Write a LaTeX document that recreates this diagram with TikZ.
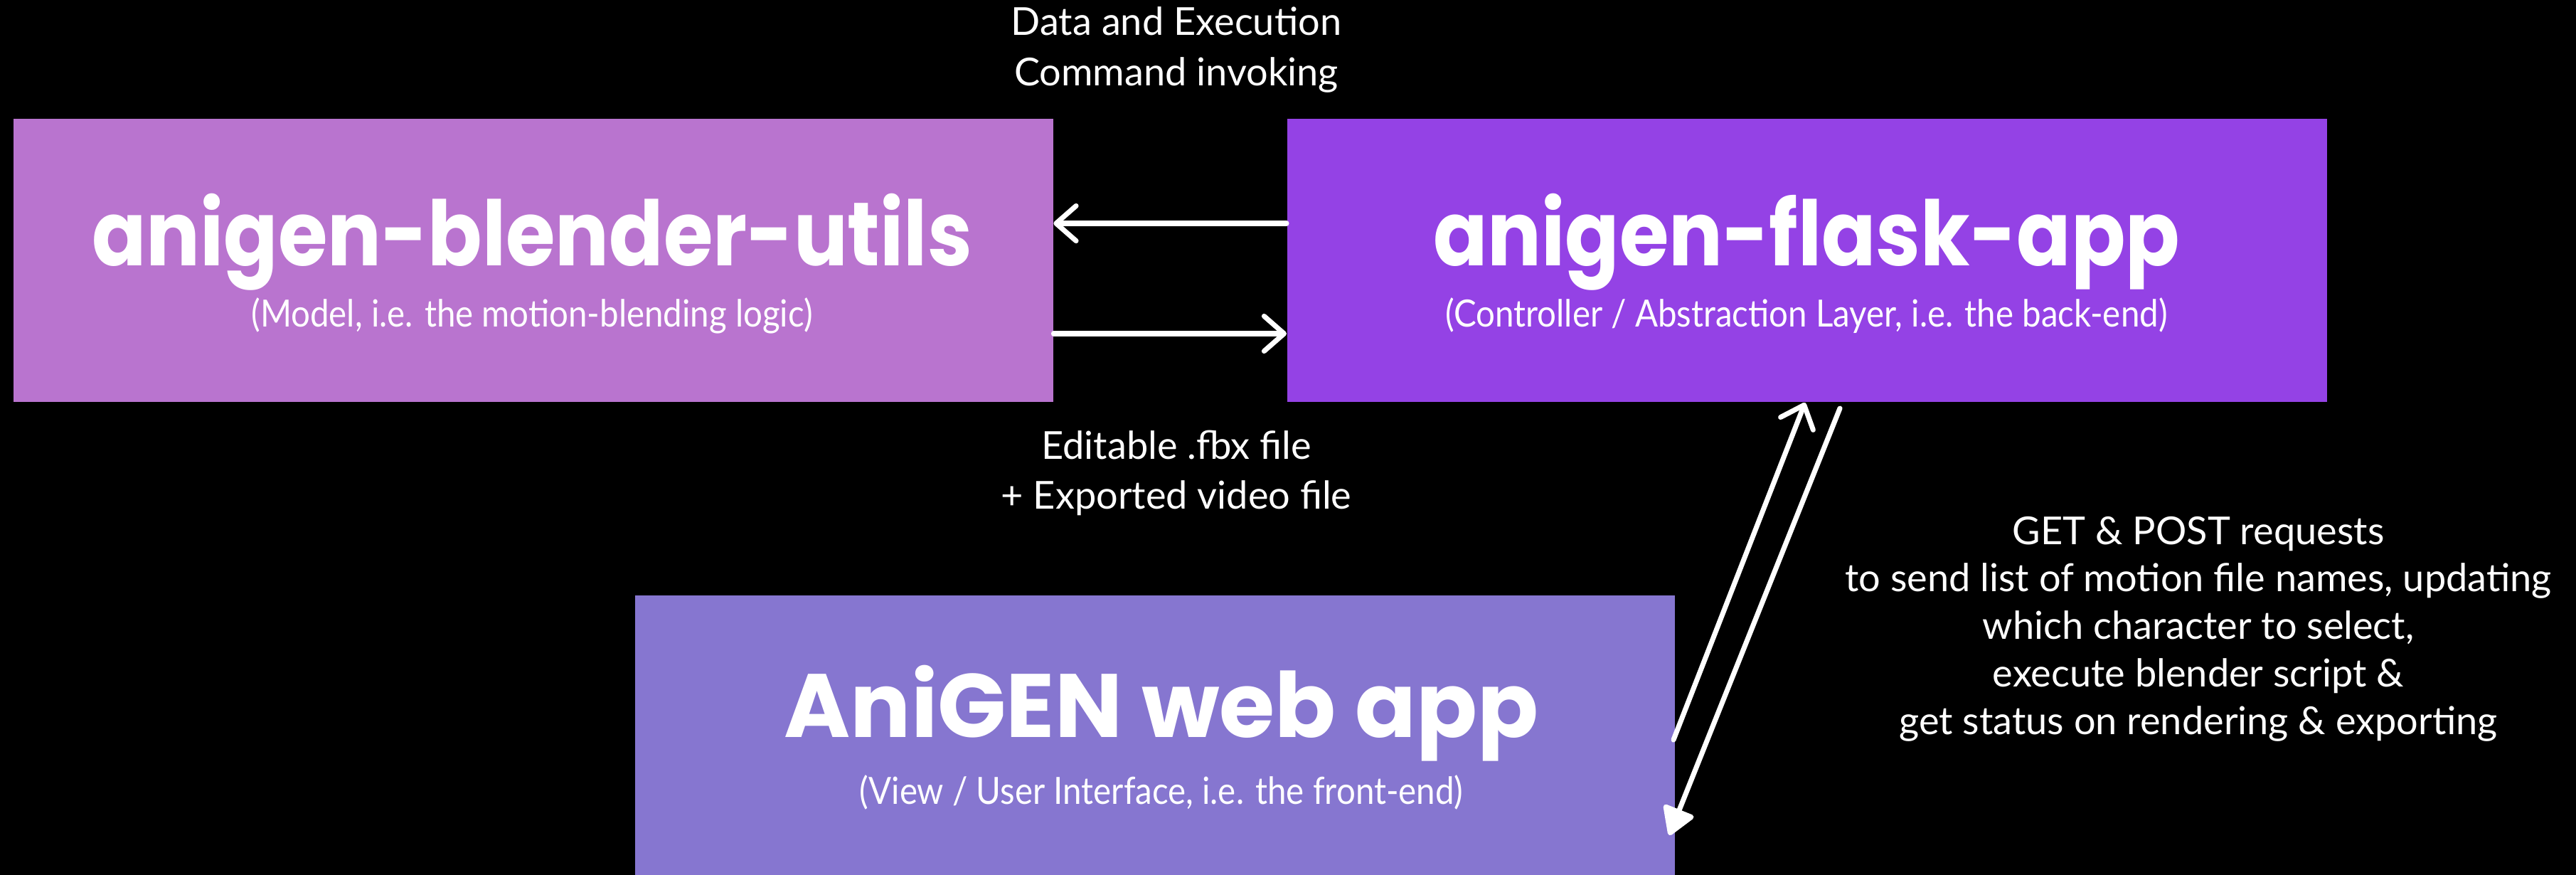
\documentclass[tikz,border=0pt]{standalone}
\usepackage{fontspec}
\setmainfont{Lato}
\newfontfamily\titlefont{Poppins}[FakeStretch=0.89]
\newfontfamily\titlewide{Poppins}
\newfontfamily\subfont{Lato}[FakeStretch=0.9]
\usetikzlibrary{arrows.meta}
\definecolor{boxa}{RGB}{185,116,207}
\definecolor{boxb}{RGB}{148,66,229}
\definecolor{boxc}{RGB}{134,118,208}
\begin{document}
\begin{tikzpicture}[
  boxstyle/.style={draw=none,inner sep=0pt,minimum width=14.62cm},
  titletext/.style={text=white,font=\titlefont\bfseries\fontsize{36}{40}\selectfont,inner sep=0pt},
  titlewidetext/.style={text=white,font=\titlewide\bfseries\fontsize{36}{40}\selectfont,inner sep=0pt},
  subtext/.style={text=white,font=\subfont\fontsize{15}{18}\selectfont,inner sep=0pt},
  labeltext/.style={text=white,font=\fontsize{15.4}{18}\selectfont,align=center,inner sep=0pt},
  flow/.style={draw=white,line width=2pt,line cap=round,-{Straight Barb[length=8pt,width=14pt,line width=2pt,round]}},
  flowtri/.style={draw=white,line width=2pt,line cap=round,-{Triangle[length=12pt,width=14pt,round]}}
]
\fill[black] (0,0) rectangle (36.22,-12.30);
\useasboundingbox (0,0) rectangle (36.22,-12.30);

\node[boxstyle,fill=boxa,anchor=north west,minimum height=3.98cm] (model) at (0.18,-1.66) {};
\node[boxstyle,fill=boxb,anchor=north west,minimum height=3.98cm] (ctrl) at (18.09,-1.66) {};
\node[boxstyle,fill=boxc,anchor=north west,minimum height=3.94cm] (view) at (8.92,-8.36) {};

\node[titletext] (modelt) at (7.48,-3.40) {anigen-blender-utils};
\node[subtext] (models) at (7.48,-4.44) {(Model, i.e. the motion-blending logic)};
\node[titletext] (ctrlt) at (25.40,-3.40) {anigen-flask-app};
\node[subtext] (ctrls) at (25.40,-4.44) {(Controller / Abstraction Layer, i.e. the back-end)};
\node[titlewidetext] (viewt) at (16.33,-10.03) {AniGEN web app};
\node[subtext] (views) at (16.33,-11.14) {(View / User Interface, i.e. the front-end)};

\node[labeltext] (cmd) at (16.54,-0.70) {Data and Execution\\[2pt]Command invoking};
\node[labeltext] (files) at (16.54,-6.65) {Editable .fbx file\\[2pt]+ Exported video file};
\node[labeltext] (req) at (30.91,-8.84) {GET \& POST requests\\[1pt]to send list of motion file names, updating\\[1pt]which character to select,\\[1pt]execute blender script \&\\[1pt]get status on rendering \& exporting};

\coordinate (a1s) at (ctrl.west |- 0,-3.14);
\coordinate (a1e) at (model.east |- 0,-3.14);
\coordinate (a2s) at (model.east |- 0,-4.69);
\coordinate (a2e) at (ctrl.west |- 0,-4.69);
\draw[flow] (a1s) -- (a1e);
\draw[flow] (a2s) -- (a2e);

\coordinate (d1s) at (23.53,-10.40);
\coordinate (d1e) at (25.38,-5.66);
\coordinate (d2s) at (25.87,-5.74);
\coordinate (d2e) at (23.47,-11.74);
\draw[flow] (d1s) -- (d1e);
\draw[flowtri] (d2s) -- (d2e);
\end{tikzpicture}
\end{document}
